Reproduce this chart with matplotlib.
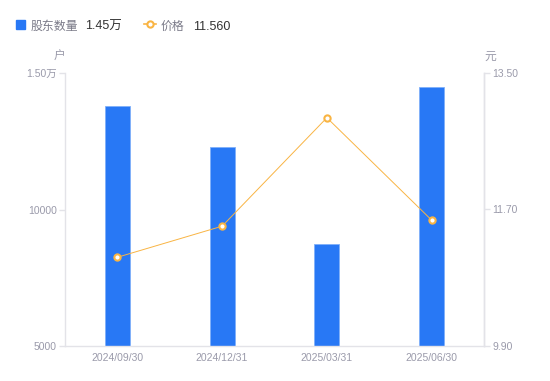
import matplotlib.pyplot as plt
from matplotlib.ticker import FixedLocator

plt.rcParams['font.family'] = ['Liberation Sans', 'Noto Sans CJK SC', 'DejaVu Sans']

dates = ["2024/09/30", "2024/12/31", "2025/03/31", "2025/06/30"]
holders = [13790, 12290, 8740, 14500]
price = [11.07, 11.48, 12.91, 11.56]
left_ticks = [5000, 10000, 15000]
left_labels = ["5000", "10000", "1.50万"]
right_ticks = [9.90, 11.70, 13.50]
right_labels = ["9.90", "11.70", "13.50"]

blue = "#2878F5"
orange = "#F9B443"
gray = "#9A9AAA"
axcol = "#E3E3E8"

fig = plt.figure(figsize=(5.5, 3.81), dpi=100)
ax = fig.add_axes([65/550, 35/381, 419/550, 273/381])
ax2 = ax.twinx()

x = list(range(len(dates)))
ax.bar(x, holders, width=0.24, color=blue, edgecolor="#7FB0FA", linewidth=0.6, zorder=2)
ax.set_xlim(-0.5, 3.5)
ax.set_ylim(5000, 15000)
ax.set_xticks(x)
ax.set_xticklabels(dates)
ax.yaxis.set_major_locator(FixedLocator(left_ticks))
ax.set_yticklabels(left_labels)

ax2.plot(x, price, color=orange, linewidth=0.7, marker="o", markersize=4.5,
         markerfacecolor="white", markeredgecolor=orange, markeredgewidth=1.5, zorder=3)
ax2.set_ylim(9.9, 13.5)
ax2.yaxis.set_major_locator(FixedLocator(right_ticks))
ax2.set_yticklabels(right_labels)

for a in (ax, ax2):
    for s in a.spines.values():
        s.set_color(axcol)
        s.set_linewidth(1)
    a.spines["top"].set_visible(False)
    a.tick_params(colors=axcol, labelcolor=gray, labelsize=7.5, length=4, width=1, pad=2)
ax.tick_params(axis="x", length=0, pad=5)
ax2.spines["left"].set_visible(False)
ax2.spines["bottom"].set_visible(False)

fig.text(59/550, 1 - 57/381, "户", color=gray, fontsize=8.5, ha="center", va="center")
fig.text(490/550, 1 - 57/381, "元", color=gray, fontsize=8.5, ha="center", va="center")

# legend
ly = 1 - 27/381
fig.patches.append(plt.Rectangle((16/550, 1 - 29/381), 9/550, 9/381, transform=fig.transFigure,
                                 color=blue, figure=fig))
fig.text(31/550, ly, "股东数量", color="#7A7A88", fontsize=8.6, va="center")
fig.text(85/550, ly, "1.45万", color="#333333", fontsize=9, va="center")
fig.lines.append(plt.Line2D([144/550, 156/550], [1 - 24/381, 1 - 24/381], transform=fig.transFigure,
                            color=orange, linewidth=1.2))
fig.lines.append(plt.Line2D([150/550], [1 - 24/381], transform=fig.transFigure, color=orange,
                            marker="o", markersize=4.5, markerfacecolor="white", markeredgewidth=1.5))
fig.text(161/550, ly, "价格", color="#7A7A88", fontsize=8.6, va="center")
fig.text(193/550, ly, "11.560", color="#333333", fontsize=9, va="center")

fig.savefig("out.png", dpi=100)
